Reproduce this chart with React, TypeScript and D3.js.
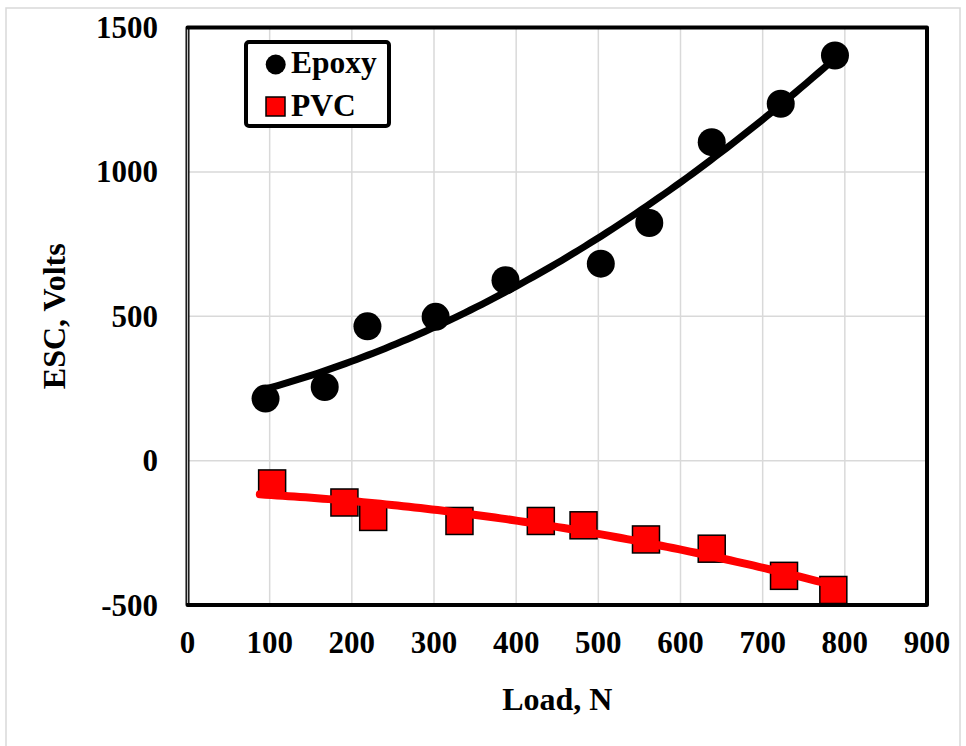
import React from "react";
import * as d3 from "d3";

// Measured load (N) and electrostatic charge (V) for each coating
const epoxyLoad = [95, 167, 219, 302, 387, 503, 562, 638, 722, 788];
const epoxyEsc = [215, 255, 465, 498, 625, 682, 823, 1103, 1236, 1403];
const pvcLoad = [103, 191, 226, 331, 430, 482, 558, 638, 726, 786];
const pvcEsc = [-79, -145, -195, -209, -209, -224, -273, -305, -399, -448];

const xTicks = [0, 100, 200, 300, 400, 500, 600, 700, 800, 900];
const yTicks = [-500, 0, 500, 1000, 1500];

const W = 966;
const H = 746;
const FONT = "'Liberation Serif', 'Times New Roman', serif";

// Least-squares second-order polynomial fit
function quadFit(xs: number[], ys: number[]) {
  const n = xs.length;
  let s1 = 0, s2 = 0, s3 = 0, s4 = 0, t0 = 0, t1 = 0, t2 = 0;
  for (let i = 0; i < n; i++) {
    const x = xs[i], y = ys[i];
    s1 += x; s2 += x * x; s3 += x * x * x; s4 += x * x * x * x;
    t0 += y; t1 += x * y; t2 += x * x * y;
  }
  const A = [
    [n, s1, s2, t0],
    [s1, s2, s3, t1],
    [s2, s3, s4, t2],
  ];
  for (let c = 0; c < 3; c++) {
    let p = c;
    for (let r = c + 1; r < 3; r++) if (Math.abs(A[r][c]) > Math.abs(A[p][c])) p = r;
    [A[c], A[p]] = [A[p], A[c]];
    for (let r = 0; r < 3; r++) {
      if (r === c) continue;
      const f = A[r][c] / A[c][c];
      for (let k = c; k < 4; k++) A[r][k] -= f * A[c][k];
    }
  }
  const c0 = A[0][3] / A[0][0];
  const c1 = A[1][3] / A[1][1];
  const c2 = A[2][3] / A[2][2];
  return (x: number) => c0 + c1 * x + c2 * x * x;
}

export default function App() {
  const x = d3.scaleLinear().domain([0, 900]).range([187.5, 927]);
  const y = d3.scaleLinear().domain([-500, 1500]).range([605, 27.5]);

  const trend = (xs: number[], ys: number[], from: number, to: number) => {
    const f = quadFit(xs, ys);
    const pts = d3.range(0, 101).map((i) => {
      const v = from + ((to - from) * i) / 100;
      return [v, f(v)] as [number, number];
    });
    return d3
      .line<[number, number]>()
      .x((d) => x(d[0]))
      .y((d) => y(d[1]))
      .curve(d3.curveLinear)(pts) as string;
  };

  const epoxyPath = trend(epoxyLoad, epoxyEsc, d3.min(epoxyLoad)!, d3.max(epoxyLoad)!);
  const pvcPath = trend(pvcLoad, pvcEsc, 88, d3.max(pvcLoad)!);

  const [x0, x1] = x.range();
  const [y0, y1] = y.range();
  const sq = 27;

  return (
    <svg
      width={W}
      height={H}
      style={{ position: "absolute", left: 0, top: 0, background: "#fff" }}
      fontFamily={FONT}
      fontWeight="bold"
    >
      <rect x={6} y={8} width={954} height={760} fill="#fff" stroke="#d9d9d9" strokeWidth={1.5} />

      {/* grid */}
      {xTicks.filter((t) => t > 0 && t < 900).map((t) => (
        <line key={"gx" + t} x1={x(t)} x2={x(t)} y1={y1} y2={y0} stroke="#d9d9d9" strokeWidth={1.5} />
      ))}
      {yTicks.filter((t) => t > -500 && t < 1500).map((t) => (
        <line key={"gy" + t} x1={x0} x2={x1} y1={y(t)} y2={y(t)} stroke="#d9d9d9" strokeWidth={1.5} />
      ))}

      {/* markers */}
      {epoxyLoad.map((v, i) => (
        <circle key={"e" + i} cx={x(v)} cy={y(epoxyEsc[i])} r={14} fill="#000" />
      ))}
      {pvcLoad.map((v, i) => (
        <rect
          key={"p" + i}
          x={x(v) - sq / 2}
          y={y(pvcEsc[i]) - sq / 2}
          width={sq}
          height={sq}
          fill="#ff0000"
          stroke="#000"
          strokeWidth={1.5}
        />
      ))}

      {/* trendlines */}
      <path d={epoxyPath} fill="none" stroke="#000" strokeWidth={7} strokeLinecap="round" />
      <path d={pvcPath} fill="none" stroke="#ff0000" strokeWidth={8} strokeLinecap="round" />

      {/* plot frame */}
      <rect x={x0} y={y1} width={x1 - x0} height={y0 - y1} fill="none" stroke="#000" strokeWidth={4} strokeLinejoin="round" />
      <line x1={x0} x2={x0} y1={y1 + 2} y2={y0 - 2} stroke="#bfbfbf" strokeWidth={1.3} />

      {/* tick labels */}
      {xTicks.map((t) => (
        <text key={"tx" + t} x={x(t)} y={653} textAnchor="middle" fontSize={31}>
          {t}
        </text>
      ))}
      {yTicks.map((t) => (
        <text key={"ty" + t} x={158} y={y(t)} dy="0.34em" textAnchor="end" fontSize={31}>
          {t}
        </text>
      ))}

      {/* axis titles */}
      <text x={(x0 + x1) / 2} y={710} textAnchor="middle" fontSize={32}>
        Load, N
      </text>
      <text
        transform={`translate(65, ${(y0 + y1) / 2}) rotate(-90)`}
        textAnchor="middle"
        fontSize={32}
      >
        ESC, Volts
      </text>

      {/* legend */}
      <rect x={246} y={42} width={143} height={84} rx={3} fill="#fff" stroke="#000" strokeWidth={4} />
      <circle cx={275.7} cy={64.5} r={10} fill="#000" />
      <text x={291} y={73} fontSize={31.5}>Epoxy</text>
      <rect x={266} y={97} width={19} height={19} fill="#ff0000" stroke="#000" strokeWidth={1.5} />
      <text x={291} y={116} fontSize={31.5}>PVC</text>
    </svg>
  );
}
